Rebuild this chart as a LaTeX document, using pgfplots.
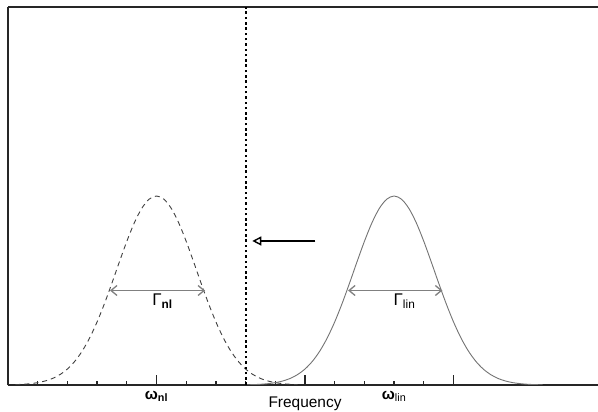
\documentclass[border=0pt]{standalone}
\usepackage{pgfplots}
\pgfplotsset{compat=1.18}
\usepackage{fontspec}
\setmainfont{Liberation Sans}
\usetikzlibrary{arrows.meta}

\begin{document}
\begin{tikzpicture}
\useasboundingbox (-8bp,-27bp) rectangle (590bp,385bp);
\begin{axis}[
    at={(0,0)}, anchor=south west,
    scale only axis,
    width=590bp, height=378bp,
    xmin=0, xmax=3.973, ymin=0, ymax=1,
    axis x line*=box, axis y line*=left,
    axis line style={line width=1.6bp, black!85},
    xtick={0,1,2,3}, xticklabels={},
    minor x tick num=4,
    xtick pos=left,
    ytick=\empty,
    major tick length=10bp, minor tick length=4bp,
    every tick/.style={line width=1.3bp, black!85},
    clip mode=individual,
    font=\fontsize{15.5}{18}\selectfont,
]
\addplot[smooth, black!75, line width=0.9bp, dash pattern=on 5bp off 4bp] coordinates {
 (0.05,0.0010)(0.10,0.0019)(0.15,0.0035)(0.20,0.0062)(0.25,0.0106)
 (0.30,0.0173)(0.35,0.0276)(0.40,0.0423)(0.45,0.0628)(0.50,0.0900)
 (0.55,0.1247)(0.60,0.1669)(0.65,0.2158)(0.70,0.2697)(0.75,0.3257)
 (0.80,0.3800)(0.85,0.4285)(0.90,0.4669)(0.95,0.4915)(1.00,0.5000)
 (1.05,0.4915)(1.10,0.4669)(1.15,0.4285)(1.20,0.3800)(1.25,0.3257)
 (1.30,0.2697)(1.35,0.2158)(1.40,0.1669)(1.45,0.1247)(1.50,0.0900)
 (1.55,0.0628)(1.60,0.0423)(1.65,0.0276)(1.70,0.0173)(1.75,0.0106)
 (1.80,0.0062)(1.85,0.0035)(1.90,0.0019)(1.95,0.0010)
};
\addplot[smooth, black!55, line width=0.9bp] coordinates {
 (1.60,0.0005)(1.65,0.0010)(1.70,0.0019)(1.75,0.0035)(1.80,0.0062)
 (1.85,0.0106)(1.90,0.0173)(1.95,0.0276)(2.00,0.0423)(2.05,0.0628)
 (2.10,0.0900)(2.15,0.1247)(2.20,0.1669)(2.25,0.2158)(2.30,0.2697)
 (2.35,0.3257)(2.40,0.3800)(2.45,0.4285)(2.50,0.4669)(2.55,0.4915)
 (2.60,0.5000)(2.65,0.4915)(2.70,0.4669)(2.75,0.4285)(2.80,0.3800)
 (2.85,0.3257)(2.90,0.2697)(2.95,0.2158)(3.00,0.1669)(3.05,0.1247)
 (3.10,0.0900)(3.15,0.0628)(3.20,0.0423)(3.25,0.0276)(3.30,0.0173)
 (3.35,0.0106)(3.40,0.0062)(3.45,0.0035)(3.50,0.0019)(3.55,0.0010)
 (3.60,0.0005)
};
% shift marker
\addplot[black, line width=2bp, dash pattern=on 2.5bp off 2.8bp] coordinates {(1.6,0) (1.6,1)};
\draw[line width=1.4bp, -{Triangle[open, length=9bp, width=9bp]}] (axis cs:2.07,0.381) -- (axis cs:1.645,0.381);
% widths
\draw[black!50, line width=1.3bp, {Straight Barb[length=6bp,width=10bp]}-{Straight Barb[length=6bp,width=10bp]}]
  (axis cs:0.687,0.25) -- (axis cs:1.327,0.25);
\draw[black!50, line width=1.3bp, {Straight Barb[length=6bp,width=10bp]}-{Straight Barb[length=6bp,width=10bp]}]
  (axis cs:2.29,0.25) -- (axis cs:2.925,0.25);
\node[anchor=base, font=\fontsize{17}{20}\selectfont] at (axis cs:1.04,0.209) {Γ\textsubscript{\textbf{nl}}};
\node[anchor=base, font=\fontsize{17}{20}\selectfont] at (axis cs:2.67,0.209) {Γ\textsubscript{lin}};
% axis labels
\node[anchor=base, yshift=-14bp] at (axis cs:1,0) {\textbf{ω}\textsubscript{\textbf{nl}}};
\node[anchor=base, yshift=-14bp] at (axis cs:2.6,0) {\textbf{ω}\textsubscript{lin}};
\node[anchor=base, yshift=-22bp] at (axis cs:2,0) {Frequency};
\end{axis}
\end{tikzpicture}
\end{document}
